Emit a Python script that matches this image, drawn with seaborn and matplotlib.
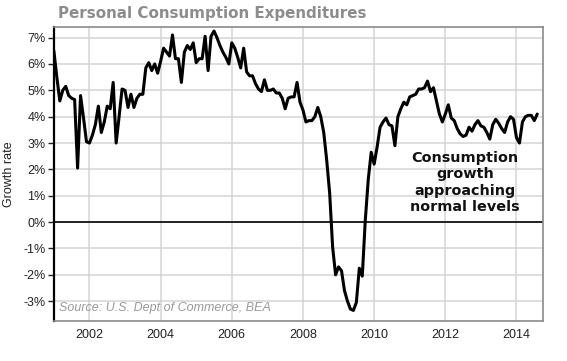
import numpy as np
import pandas as pd
import seaborn as sns
import matplotlib
matplotlib.use("Agg")
import matplotlib.pyplot as plt

# Monthly year-over-year growth of personal consumption expenditures (%)
pce_2001 = [6.5, 5.5, 4.6, 5.0, 5.15, 4.8, 4.7, 4.65, 2.05, 4.8, 3.95, 3.05]
pce_2002 = [3.0, 3.3, 3.7, 4.4, 3.4, 3.8, 4.4, 4.3, 5.3, 3.0, 4.0, 5.05]
pce_2003 = [5.0, 4.35, 4.85, 4.35, 4.7, 4.85, 4.85, 5.85, 6.05, 5.75, 6.0, 5.65]
pce_2004 = [6.1, 6.6, 6.45, 6.3, 7.1, 6.2, 6.2, 5.3, 6.45, 6.7, 6.55, 6.8]
pce_2005 = [6.05, 6.2, 6.2, 7.05, 5.75, 7.05, 7.25, 7.0, 6.7, 6.45, 6.25, 6.0]
pce_2006 = [6.8, 6.6, 6.25, 5.85, 6.6, 5.7, 5.55, 5.55, 5.25, 5.05, 4.95, 5.4]
pce_2007 = [5.0, 5.0, 5.05, 4.9, 4.9, 4.7, 4.3, 4.7, 4.75, 4.75, 5.3, 4.55]
pce_2008 = [4.25, 3.8, 3.85, 3.85, 4.0, 4.35, 4.0, 3.4, 2.35, 1.1, -0.95, -2.0]
pce_2009 = [-1.7, -1.85, -2.6, -3.0, -3.3, -3.35, -3.05, -1.75, -2.05, 0.05, 1.6, 2.65]
pce_2010 = [2.2, 2.85, 3.6, 3.8, 3.95, 3.7, 3.65, 2.9, 4.0, 4.3, 4.55, 4.45]
pce_2011 = [4.75, 4.8, 4.85, 5.05, 5.05, 5.1, 5.35, 4.95, 5.1, 4.6, 4.1, 3.8]
pce_2012 = [4.1, 4.45, 3.95, 3.85, 3.55, 3.35, 3.25, 3.3, 3.6, 3.45, 3.7, 3.85]
pce_2013 = [3.65, 3.6, 3.4, 3.15, 3.7, 3.9, 3.75, 3.55, 3.4, 3.8, 4.0, 3.9]
pce_2014 = [3.2, 3.0, 3.8, 4.0, 4.05, 4.05, 3.85, 4.1]

start_year = 2001
x_ticks = [2002, 2004, 2006, 2008, 2010, 2012, 2014]
y_ticks = [-3, -2, -1, 0, 1, 2, 3, 4, 5, 6, 7]

values = (pce_2001 + pce_2002 + pce_2003 + pce_2004 + pce_2005 + pce_2006 +
          pce_2007 + pce_2008 + pce_2009 + pce_2010 + pce_2011 + pce_2012 +
          pce_2013 + pce_2014)
df = pd.DataFrame({
    "year": start_year + np.arange(len(values)) / 12.0,
    "growth": values,
})

sns.set_style("white")
plt.rcParams["font.family"] = ["Liberation Sans", "DejaVu Sans"]

fig = plt.figure(figsize=(5.67, 3.61), dpi=100)
ax = fig.add_axes([0.095, 0.111, 0.863, 0.814])

ax.grid(True, color="#d4d4d4", linewidth=1.1)
ax.set_axisbelow(True)
ax.axhline(0, color="#222222", linewidth=1.4, zorder=2)

sns.lineplot(data=df, x="year", y="growth", ax=ax, color="black",
             linewidth=2.2, zorder=3)

ax.set_xlim(2001, 2014.75)
ax.set_ylim(-3.75, 7.4)
ax.set_xticks(x_ticks)
ax.set_yticks(y_ticks)
ax.set_yticklabels([f"{v}%" for v in y_ticks])
ax.tick_params(axis="x", length=0, labelsize=9, pad=6, colors="#222222")
ax.tick_params(axis="y", length=4, width=1, labelsize=9, pad=2, colors="#222222",
               left=True)
ax.set_xlabel("")
ax.set_ylabel("Growth rate", fontsize=9, color="#222222", labelpad=6)

for side in ["top", "right", "bottom"]:
    ax.spines[side].set_color("#8a8a8a")
    ax.spines[side].set_linewidth(1.2)
ax.spines["left"].set_color("black")
ax.spines["left"].set_linewidth(1.6)

fig.text(0.102, 0.963, "Personal Consumption Expenditures", fontsize=10.9,
         fontweight="bold", color="#8c8c8c", family="DejaVu Sans", va="center")

ax.text(2001.15, -3.25, "Source: U.S. Dept of Commerce, BEA", fontsize=9,
        style="italic", color="#9a9a9a", va="center")

ax.text(2012.55, 1.5, "Consumption\ngrowth\napproaching\nnormal levels",
        fontsize=10.4, fontweight="bold", color="#111111", family="DejaVu Sans",
        ha="center", va="center", linespacing=1.2)

fig.savefig("out.png", dpi=100)
